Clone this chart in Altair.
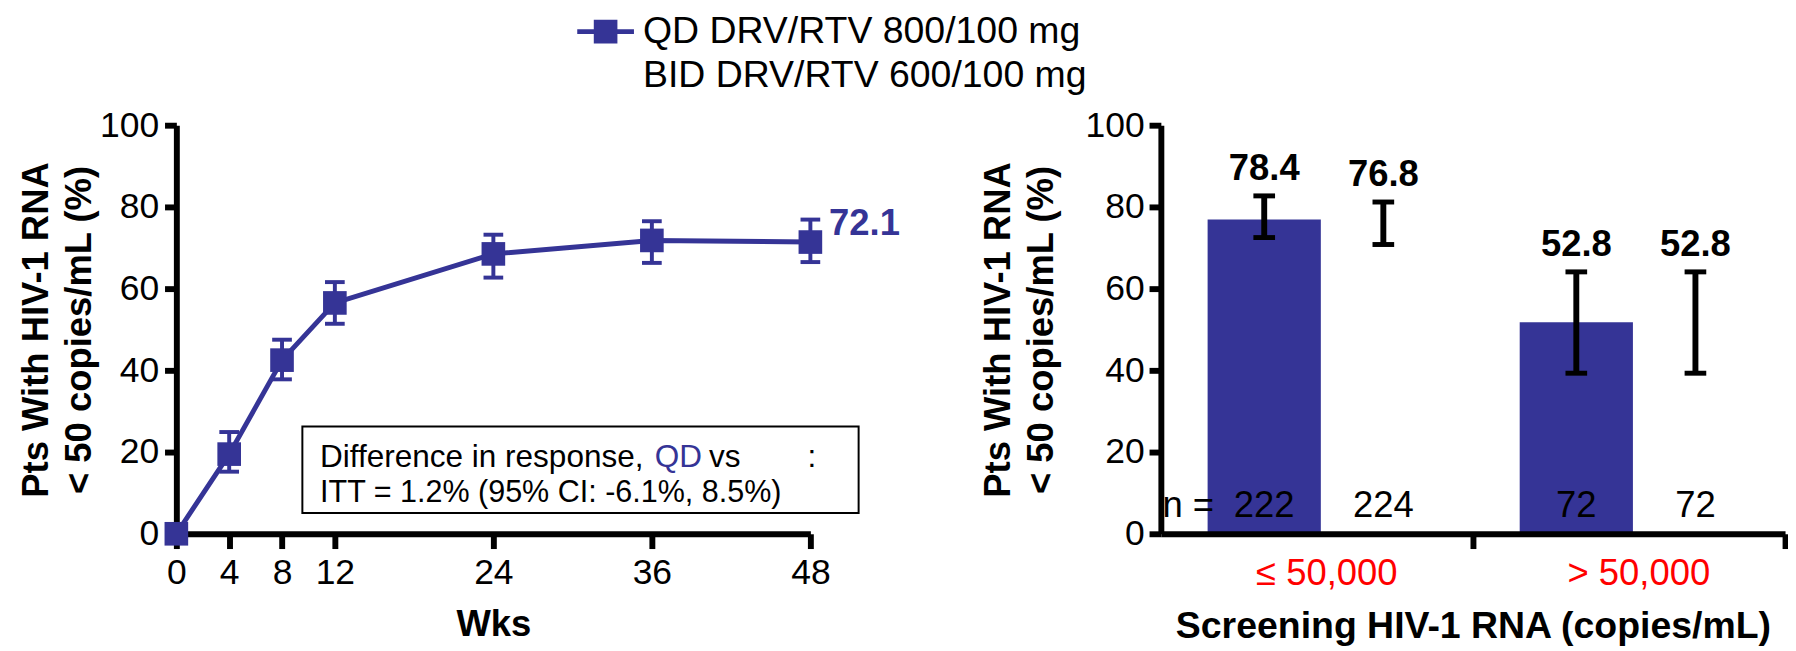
import altair as alt
import pandas as pd

BLUE = "#353496"
FONT = "Liberation Sans"

# ---------------- data ----------------
series_names = ["QD DRV/RTV 800/100 mg", "BID DRV/RTV 600/100 mg"]
series_colors = [BLUE, "#FFFFFF"]

weeks = [0, 4, 8, 12, 24, 36, 48]
qd_pct = [0, 19.5, 42.5, 56.5, 68.5, 71.8, 71.4]
qd_lo = [0, 15.2, 37.8, 51.4, 62.7, 66.3, 66.5]
qd_hi = [0, 24.9, 47.5, 61.6, 73.2, 76.5, 76.9]
end_label = ["", "", "", "", "", "", "72.1"]

y_ticks = [0, 20, 40, 60, 80, 100]
y_title = ["Pts With HIV-1 RNA", "< 50 copies/mL (%)"]

strata = ["\u2264 50,000", "> 50,000"]
groups = ["QD", "BID"]
bar_stratum = [strata[0], strata[0], strata[1], strata[1]]
bar_group = ["QD", "BID", "QD", "BID"]
bar_pct = [76.9, 76.8, 51.8, 52.8]
bar_lo = [72.5, 70.8, 39.3, 39.3]
bar_hi = [82.7, 81.2, 64.1, 64.1]
bar_label = ["78.4", "76.8", "52.8", "52.8"]
bar_n = ["222", "224", "72", "72"]
bar_fill = [BLUE, "#FFFFFF", BLUE, "#FFFFFF"]

box_line1 = ["Difference in response,", "QD", "vs", "BID", ":"]
box_line1_colors = ["black", BLUE, "black", "#FFFFFF", "black"]
box_line2 = "ITT = 1.2% (95% CI: -6.1%, 8.5%)"

# ---------------- styles ----------------
W_L, W_R, H = 644, 634, 415
LEGEND_PATH = "M-2.4,-0.2H2.4V0.2H-2.4Z M-1,-1H1V1H-1Z"

# ---------------- left panel ----------------
line_df = pd.DataFrame({
    "week": weeks, "pct": qd_pct, "lo": qd_lo, "hi": qd_hi,
    "label": end_label, "series": [series_names[0]] * len(weeks),
})

xL = alt.X("week:Q", scale=alt.Scale(domain=[0, 48], nice=False, zero=False),
           axis=alt.Axis(values=weeks, title="Wks", tickSize=15, labelPadding=8,
                         titlePadding=16, labelFlush=False))
yL = alt.Y("pct:Q", scale=alt.Scale(domain=[0, 100], nice=False),
           axis=alt.Axis(values=y_ticks, title=y_title, tickSize=12, labelPadding=6,
                         titlePadding=1, titleLineHeight=44))

baseL = alt.Chart(line_df)
errL = baseL.transform_filter("datum.week > 0")
line = baseL.mark_line(color=BLUE, strokeWidth=5).encode(x=xL, y=yL)
err_rule = errL.mark_rule(color=BLUE, strokeWidth=4, opacity=1).encode(
    x="week:Q", y="lo:Q", y2="hi:Q")
cap_lo = errL.mark_tick(color=BLUE, orient="horizontal", size=20, thickness=4,
                        opacity=1).encode(x="week:Q", y="lo:Q")
cap_hi = errL.mark_tick(color=BLUE, orient="horizontal", size=20, thickness=4,
                        opacity=1).encode(x="week:Q", y="hi:Q")
points = baseL.mark_point(shape="square", filled=True, size=576, opacity=1).encode(
    x="week:Q", y="pct:Q",
    color=alt.Color("series:N", scale=alt.Scale(domain=series_names, range=series_colors),
                    legend=alt.Legend(orient="none", legendX=417, legendY=-114, title=None,
                                      symbolType=LEGEND_PATH, symbolSize=576,
                                      symbolStrokeWidth=0, labelFont=FONT,
                                      labelFontSize=38, labelColor="black",
                                      labelLimit=900, rowPadding=7, labelOffset=19,
                                      padding=0)))
end_text = baseL.mark_text(font=FONT, fontSize=37, fontWeight="bold", color=BLUE,
                           align="left", baseline="alphabetic", dx=19, dy=-7).encode(
    x="week:Q", y="pct:Q", text="label:N")

one = pd.DataFrame({"a": [0]})
box = alt.Chart(one).mark_rect(fill="white", stroke="black", strokeWidth=2).encode(
    x=alt.value(128), x2=alt.value(693), y=alt.value(306), y2=alt.value(394))

box_x1 = [146, 486, 541, 584, 641]
box_texts = []
for t, c, xx in zip(box_line1, box_line1_colors, box_x1):
    box_texts.append(alt.Chart(one).mark_text(
        text=t, font=FONT, fontSize=32, color=c, align="left", baseline="alphabetic"
    ).encode(x=alt.value(xx), y=alt.value(347)))
box_texts.append(alt.Chart(one).mark_text(
    text=box_line2, font=FONT, fontSize=31, color="black", align="left", baseline="alphabetic"
).encode(x=alt.value(146), y=alt.value(383)))

left = alt.layer(line, err_rule, cap_lo, cap_hi, points, end_text, box, *box_texts).properties(
    width=W_L, height=H)

# ---------------- right panel ----------------
bar_df = pd.DataFrame({
    "stratum": bar_stratum, "group": bar_group, "pct": bar_pct, "lo": bar_lo,
    "hi": bar_hi, "label": bar_label, "n": bar_n, "fill": bar_fill,
})

xR = alt.X("stratum:N", sort=strata, scale=alt.Scale(paddingInner=0, paddingOuter=0),
           axis=alt.Axis(title="Screening HIV-1 RNA (copies/mL)", bandPosition=1,
                         labelAngle=0, tickSize=15, labelPadding=8, titlePadding=16,
                         labelOffset=10, zindex=1, titleFontSize=38,
                         labelColor="#FF0000", labelFontSize=37))
xo = alt.XOffset("group:N", sort=groups,
                 scale=alt.Scale(paddingOuter=0.31, paddingInner=0, align=0.593))
yR = alt.Y("pct:Q", scale=alt.Scale(domain=[0, 100], nice=False),
           axis=alt.Axis(values=y_ticks, title=y_title, tickSize=12, labelPadding=5,
                         titlePadding=25, titleLineHeight=44, zindex=1))

baseR = alt.Chart(bar_df)
bars = baseR.mark_bar(width=115).encode(x=xR, xOffset=xo, y=yR,
                                         color=alt.Color("fill:N", scale=None))
e_rule = baseR.mark_rule(color="black", strokeWidth=6, opacity=1).encode(
    x=xR, xOffset=xo, y="lo:Q", y2="hi:Q")
e_lo = baseR.mark_tick(color="black", size=22, thickness=5, orient="horizontal",
                       opacity=1).encode(x=xR, xOffset=xo, y="lo:Q")
e_hi = baseR.mark_tick(color="black", size=22, thickness=5, orient="horizontal",
                       opacity=1).encode(x=xR, xOffset=xo, y="hi:Q")
v_text = baseR.mark_text(font=FONT, fontSize=37, fontWeight="bold", color="black",
                         baseline="alphabetic", dy=-16).encode(
    x=xR, xOffset=xo, y="hi:Q", text="label:N")
n_text = baseR.mark_text(font=FONT, fontSize=37, color="black", baseline="alphabetic").encode(
    x=xR, xOffset=xo, y=alt.value(H - 17), text="n:N")
n_eq = baseR.transform_filter(alt.datum.group == "QD").transform_filter(
    alt.datum.stratum == strata[0]).mark_text(
    text="n =", font=FONT, fontSize=37, color="black", baseline="alphabetic",
    align="right", dx=-51).encode(x=xR, xOffset=xo, y=alt.value(H - 17))

right = alt.layer(bars, e_rule, e_lo, e_hi, v_text, n_text, n_eq).properties(
    width=W_R, height=H)

chart = alt.hconcat(left, right, spacing=79).properties(
    padding={"left": 9, "top": 0, "right": 0, "bottom": 0}
).configure(font=FONT).configure_view(stroke=None, strokeWidth=0).configure_axis(
    domainColor="black", domainWidth=6, tickColor="black", tickWidth=6,
    labelFont=FONT, labelFontSize=36, labelColor="black",
    titleFont=FONT, titleFontSize=37, titleFontWeight="bold", titleColor="black",
    grid=False, labelOverlap=False,
)

chart.save("out.html", embed_options={"renderer": "svg", "actions": False})
